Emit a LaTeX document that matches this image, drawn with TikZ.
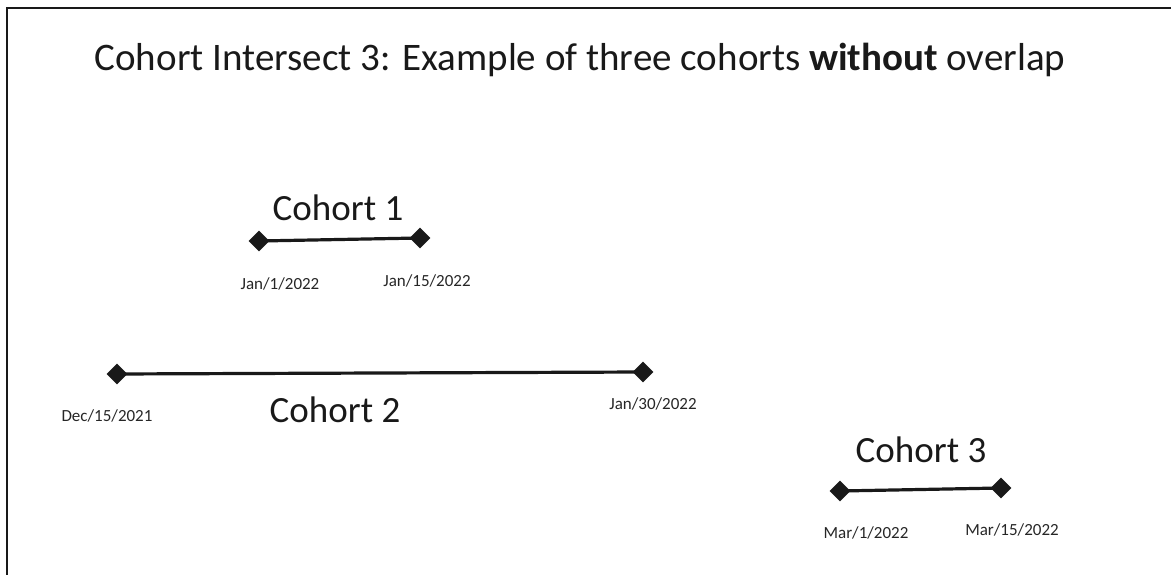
\documentclass[tikz,border=0pt]{standalone}
\usepackage{fontspec}
\setmainfont{Carlito}
\usetikzlibrary{shapes.geometric}
\begin{document}
\begin{tikzpicture}[x=1pt,y=-1pt,
  pt/.style={diamond,fill=black!90,draw=none,inner sep=0pt,minimum width=21pt,minimum height=21pt},
  seg/.style={line width=3.2pt,black!90},
  big/.style={font=\fontsize{37}{40}\selectfont,inner sep=0pt,text=black!90},
  date/.style={font=\fontsize{17}{18}\selectfont,inner sep=0pt,text=black!85},
  frame/.style={line width=2pt,black!90}]
\useasboundingbox (0,0) rectangle (1171,575);
\coordinate (fa) at (7,575);
\coordinate (fb) at (7,8);
\coordinate (fc) at (1171,8);
\draw[frame] (fa) -- (fb) -- (fc);
\node[inner sep=0pt,font=\fontsize{39}{44}\selectfont,text=black!90] (title) at (580,60) {Cohort Intersect 3: Example of three cohorts \textbf{without} overlap};
% Cohort 1
\node[pt] (a1) at (259,241) {};
\node[pt] (b1) at (420,238) {};
\draw[seg] (a1.center) -- (b1.center);
\node[big] (c1) at (338,208) {Cohort 1};
\node[date] (d1a) at (280,284) {Jan/1/2022};
\node[date] (d1b) at (427,281) {Jan/15/2022};
% Cohort 2
\node[pt] (a2) at (117,374) {};
\node[pt] (b2) at (643,372) {};
\draw[seg] (a2.center) -- (b2.center);
\node[big] (c2) at (335,410) {Cohort 2};
\node[date] (d2a) at (107,416) {Dec/15/2021};
\node[date] (d2b) at (653,404) {Jan/30/2022};
% Cohort 3
\node[pt] (a3) at (840,491) {};
\node[pt] (b3) at (1001,488) {};
\draw[seg] (a3.center) -- (b3.center);
\node[big] (c3) at (921,450) {Cohort 3};
\node[date] (d3a) at (866,533) {Mar/1/2022};
\node[date] (d3b) at (1012,530) {Mar/15/2022};
\end{tikzpicture}
\end{document}
